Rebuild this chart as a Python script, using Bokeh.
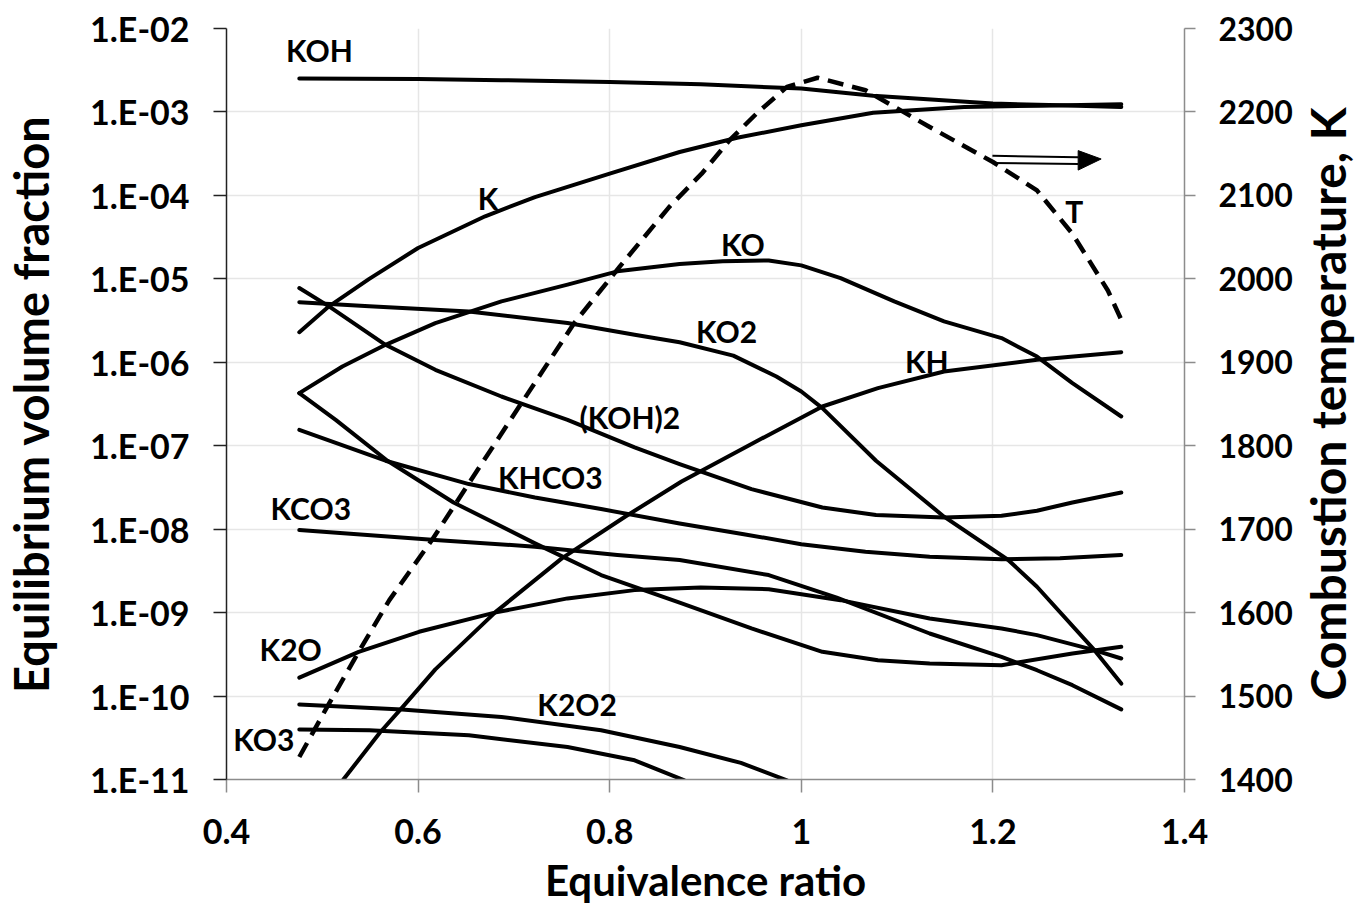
from bokeh.plotting import figure
from bokeh.layouts import row
from bokeh.models import (Range1d, LinearAxis, LinearScale, FixedTicker,
                          CustomJSTickFormatter)
from bokeh.core.properties import value
from bokeh.embed import file_html
from bokeh.resources import INLINE

FONT = "Lato"

# ---------------- data (equivalence ratio, volume fraction) ----------------
phi_KOH = [0.476, 0.600, 0.687, 0.800, 0.895, 1.000, 1.075, 1.200, 1.270, 1.334]
KOH = [2.51e-3, 2.48e-3, 2.40e-3, 2.29e-3, 2.14e-3, 1.91e-3, 1.56e-3, 1.26e-3, 1.20e-3, 1.15e-3]

phi_K = [0.476, 0.507, 0.549, 0.600, 0.670, 0.722, 0.800, 0.873, 0.933, 1.000, 1.075, 1.170, 1.250, 1.334]
K = [2.29e-6, 4.68e-6, 1.00e-5, 2.34e-5, 5.62e-5, 9.55e-5, 1.82e-4, 3.31e-4, 4.90e-4, 6.92e-4, 9.77e-4, 1.15e-3, 1.19e-3, 1.24e-3]

phi_KO = [0.476, 0.521, 0.566, 0.618, 0.687, 0.756, 0.808, 0.873, 0.918, 0.966, 1.000, 1.041, 1.097, 1.149, 1.209, 1.246, 1.283, 1.334]
KO = [4.27e-7, 8.91e-7, 1.62e-6, 2.95e-6, 5.37e-6, 8.51e-6, 1.23e-5, 1.51e-5, 1.62e-5, 1.66e-5, 1.45e-5, 1.02e-5, 5.37e-6, 3.09e-6, 1.95e-6, 1.17e-6, 5.62e-7, 2.24e-7]

phi_KO2 = [0.476, 0.549, 0.653, 0.756, 0.826, 0.873, 0.929, 0.974, 1.000, 1.022, 1.078, 1.149, 1.216, 1.246, 1.306, 1.334]
KO2 = [5.25e-6, 4.68e-6, 4.07e-6, 2.95e-6, 2.14e-6, 1.74e-6, 1.20e-6, 6.76e-7, 4.47e-7, 2.82e-7, 6.61e-8, 1.41e-8, 4.27e-9, 2.04e-9, 3.55e-10, 1.41e-10]

phi_KOH2 = [0.476, 0.507, 0.566, 0.618, 0.687, 0.756, 0.826, 0.873, 0.948, 1.022, 1.078, 1.149, 1.209, 1.246, 1.283, 1.334]
KOH2 = [7.76e-6, 4.68e-6, 1.62e-6, 8.13e-7, 3.89e-7, 2.04e-7, 9.55e-8, 6.03e-8, 3.02e-8, 1.82e-8, 1.48e-8, 1.38e-8, 1.45e-8, 1.66e-8, 2.09e-8, 2.75e-8]

phi_KHCO3 = [0.476, 0.566, 0.653, 0.722, 0.791, 0.873, 0.940, 1.000, 1.067, 1.134, 1.209, 1.270, 1.334]
KHCO3 = [1.55e-7, 6.61e-8, 3.47e-8, 2.40e-8, 1.74e-8, 1.17e-8, 8.71e-9, 6.61e-9, 5.37e-9, 4.68e-9, 4.37e-9, 4.47e-9, 4.90e-9]

phi_KCO3 = [0.476, 0.618, 0.722, 0.808, 0.873, 0.966, 1.037, 1.134, 1.209, 1.246, 1.283, 1.334]
KCO3 = [9.77e-9, 7.41e-9, 6.17e-9, 4.90e-9, 4.27e-9, 2.82e-9, 1.51e-9, 5.62e-10, 2.95e-10, 2.04e-10, 1.35e-10, 6.92e-11]

phi_K2O = [0.476, 0.538, 0.601, 0.680, 0.756, 0.826, 0.895, 0.966, 1.041, 1.134, 1.209, 1.246, 1.306, 1.334]
K2O = [1.66e-10, 3.39e-10, 5.89e-10, 1.00e-9, 1.48e-9, 1.86e-9, 2.00e-9, 1.91e-9, 1.41e-9, 8.51e-10, 6.46e-10, 5.37e-10, 3.55e-10, 2.82e-10]

# unlabeled species curve (starts with KO at the lean end, then falls)
phi_other = [0.476, 0.514, 0.568, 0.637, 0.722, 0.791, 0.873, 0.948, 1.022, 1.080, 1.134, 1.209, 1.283, 1.334]
other = [4.27e-7, 2.04e-7, 6.61e-8, 2.09e-8, 6.76e-9, 2.82e-9, 1.32e-9, 6.46e-10, 3.39e-10, 2.69e-10, 2.45e-10, 2.34e-10, 3.24e-10, 3.89e-10]

phi_KH = [0.476, 0.522, 0.560, 0.584, 0.618, 0.681, 0.750, 0.816, 0.875, 0.948, 1.022, 1.080, 1.149, 1.246, 1.334]
KH = [2.0e-12, 1.0e-11, 3.63e-11, 7.41e-11, 2.09e-10, 1.02e-9, 4.47e-9, 1.41e-8, 3.72e-8, 1.05e-7, 2.95e-7, 4.90e-7, 7.76e-7, 1.07e-6, 1.32e-6]

phi_K2O2 = [0.476, 0.583, 0.687, 0.791, 0.873, 0.937, 0.985]
K2O2 = [7.94e-11, 6.92e-11, 5.62e-11, 3.89e-11, 2.45e-11, 1.58e-11, 9.77e-12]

phi_KO3 = [0.476, 0.549, 0.653, 0.756, 0.826, 0.878]
KO3 = [3.98e-11, 3.89e-11, 3.39e-11, 2.45e-11, 1.70e-11, 9.77e-12]

# combustion temperature, K (right axis)
phi_T = [0.476, 0.507, 0.538, 0.570, 0.615, 0.653, 0.705, 0.763, 0.810, 0.862, 0.896, 0.925, 0.955, 0.985, 1.017, 1.067, 1.134, 1.200, 1.246, 1.283, 1.320, 1.334]
T = [1427, 1491, 1553, 1615, 1688, 1755, 1846, 1947, 2014, 2086, 2126, 2166, 2200, 2230, 2241, 2226, 2182, 2140, 2106, 2054, 1986, 1951]

x_ticks = [0.4, 0.6, 0.8, 1.0, 1.2, 1.4]
y_ticks = [1e-11, 1e-10, 1e-9, 1e-8, 1e-7, 1e-6, 1e-5, 1e-4, 1e-3, 1e-2]
T_ticks = [1400, 1500, 1600, 1700, 1800, 1900, 2000, 2100, 2200, 2300]

# curve labels: text, x, y (left-axis units)
label_text = ["KOH", "K", "KO", "KO2", "(KOH)2", "KHCO3", "KCO3", "KH", "T", "K2O", "K2O2", "KO3"]
label_x = [0.497, 0.673, 0.939, 0.922, 0.821, 0.738, 0.488, 1.131, 1.285, 0.467, 0.766, 0.439]
label_y = [5.5e-3, 9.3e-5, 2.63e-5, 2.34e-6, 2.21e-7, 4.27e-8, 1.78e-8, 1.05e-6, 6.46e-5, 3.63e-10, 8.13e-11, 3.02e-11]

RIGHT_TITLE = "Combustion temperature, K"

# ---------------- main figure ----------------
p = figure(width=1295, height=912, output_backend="svg", toolbar_location=None,
           x_range=Range1d(0.4, 1.4), y_range=Range1d(1e-11, 1e-2),
           y_axis_type="log",
           min_border_left=223, min_border_right=109,
           min_border_top=28, min_border_bottom=133)
p.outline_line_color = None
p.background_fill_color = "white"
p.border_fill_color = "white"

p.extra_y_ranges = {"T": Range1d(1400, 2300)}
p.extra_y_scales = {"T": LinearScale()}

xt = FixedTicker(ticks=x_ticks, minor_ticks=[])
yt = FixedTicker(ticks=y_ticks, minor_ticks=[])

p.xgrid.ticker = xt
p.ygrid.ticker = yt
for g in (p.xgrid, p.ygrid):
    g.grid_line_color = "#e6e6e6"
    g.grid_line_width = 1.5

# bottom axis
xa = p.xaxis[0]
xa.ticker = xt
xa.formatter = CustomJSTickFormatter(code="return String(Math.round(tick*10)/10);")
xa.axis_line_color = "#8c8c8c"
xa.axis_line_width = 1.5
xa.major_tick_line_color = "#8c8c8c"
xa.major_tick_line_width = 1.5
xa.major_tick_out = 13
xa.major_tick_in = 0
xa.minor_tick_line_color = None
xa.major_label_standoff = 26
xa.major_label_text_font = FONT
xa.major_label_text_font_style = "bold"
xa.major_label_text_font_size = "34px"
xa.major_label_text_color = "black"
xa.axis_label = "Equivalence ratio"
xa.axis_label_standoff = 8
xa.axis_label_text_font = FONT
xa.axis_label_text_font_style = "bold"
xa.axis_label_text_font_size = "42px"
xa.axis_label_text_color = "black"

# left axis
ya = p.yaxis[0]
ya.ticker = yt
ya.formatter = CustomJSTickFormatter(code="""
const e = Math.round(Math.log10(tick));
const a = Math.abs(e);
return "1.E" + (e < 0 ? "-" : "+") + (a < 10 ? "0" : "") + a;
""")
ya.axis_line_color = "#222222"
ya.axis_line_width = 1.5
ya.major_tick_line_color = "#222222"
ya.major_tick_line_width = 1.5
ya.major_tick_out = 13
ya.major_tick_in = 0
ya.minor_tick_line_color = None
ya.major_label_standoff = 24
ya.major_label_text_font = FONT
ya.major_label_text_font_style = "bold"
ya.major_label_text_font_size = "34px"
ya.major_label_text_color = "black"
ya.axis_label = "Equilibrium volume fraction"
ya.axis_label_standoff = 28
ya.axis_label_text_font = FONT
ya.axis_label_text_font_style = "bold"
ya.axis_label_text_font_size = "47px"
ya.axis_label_text_color = "black"

# right axis (temperature)
ra = LinearAxis(y_range_name="T",
                ticker=FixedTicker(ticks=T_ticks, minor_ticks=[]))
ra.axis_line_color = "#8c8c8c"
ra.axis_line_width = 1.5
ra.major_tick_line_color = "#8c8c8c"
ra.major_tick_line_width = 1.5
ra.major_tick_out = 11
ra.major_tick_in = 0
ra.minor_tick_line_color = None
ra.major_label_standoff = 23
ra.major_label_text_font = FONT
ra.major_label_text_font_style = "bold"
ra.major_label_text_font_size = "32px"
ra.major_label_text_color = "black"
p.add_layout(ra, "right")

# ---------------- curves ----------------
series = [
    (phi_KOH, KOH), (phi_K, K), (phi_KO, KO), (phi_KO2, KO2),
    (phi_KOH2, KOH2), (phi_KHCO3, KHCO3), (phi_KCO3, KCO3),
    (phi_K2O, K2O), (phi_other, other), (phi_KH, KH),
    (phi_K2O2, K2O2), (phi_KO3, KO3),
]
for xs, ys in series:
    p.line(xs, ys, line_color="black", line_width=4,
           line_cap="round", line_join="round")

p.line(phi_T, T, y_range_name="T", line_color="black", line_width=4.5,
       line_dash="16 9", line_join="round")

# arrow pointing to the right axis (for T)
p.line([1.1995, 1.2890], [2.99e-4, 2.86e-4], line_color="black", line_width=2)
p.line([1.1995, 1.2890], [2.44e-4, 2.38e-4], line_color="black", line_width=2)
p.patch([1.289, 1.313, 1.289], [3.44e-4, 2.73e-4, 2.01e-4],
        fill_color="black", line_color="black", line_width=1)

p.text(x=label_x, y=label_y, text=label_text,
       text_font=value(FONT), text_font_style="bold",
       text_font_size="30px", text_align="center", text_baseline="middle",
       text_color="black")

# ---------------- right-axis title (narrow companion figure) ----------------
p2 = figure(width=61, height=912, output_backend="svg", toolbar_location=None,
            x_range=Range1d(0, 1), y_range=Range1d(0, 1),
            x_axis_location=None,
            min_border_left=60, min_border_right=0,
            min_border_top=28, min_border_bottom=133)
p2.outline_line_color = None
p2.background_fill_color = "white"
p2.border_fill_color = "white"
p2.grid.visible = False
t_ax = p2.yaxis[0]
t_ax.ticker = FixedTicker(ticks=[], minor_ticks=[])
t_ax.axis_line_color = None
t_ax.major_tick_line_color = None
t_ax.minor_tick_line_color = None
t_ax.major_tick_out = 0
t_ax.minor_tick_out = 0
t_ax.major_label_standoff = 0
t_ax.axis_label = RIGHT_TITLE
t_ax.axis_label_standoff = 0
t_ax.axis_label_text_font = FONT
t_ax.axis_label_text_font_style = "bold"
t_ax.axis_label_text_font_size = "48px"
t_ax.axis_label_text_color = "black"

page = row(p, p2)
open("out.html", "w").write(file_html(page, INLINE))
